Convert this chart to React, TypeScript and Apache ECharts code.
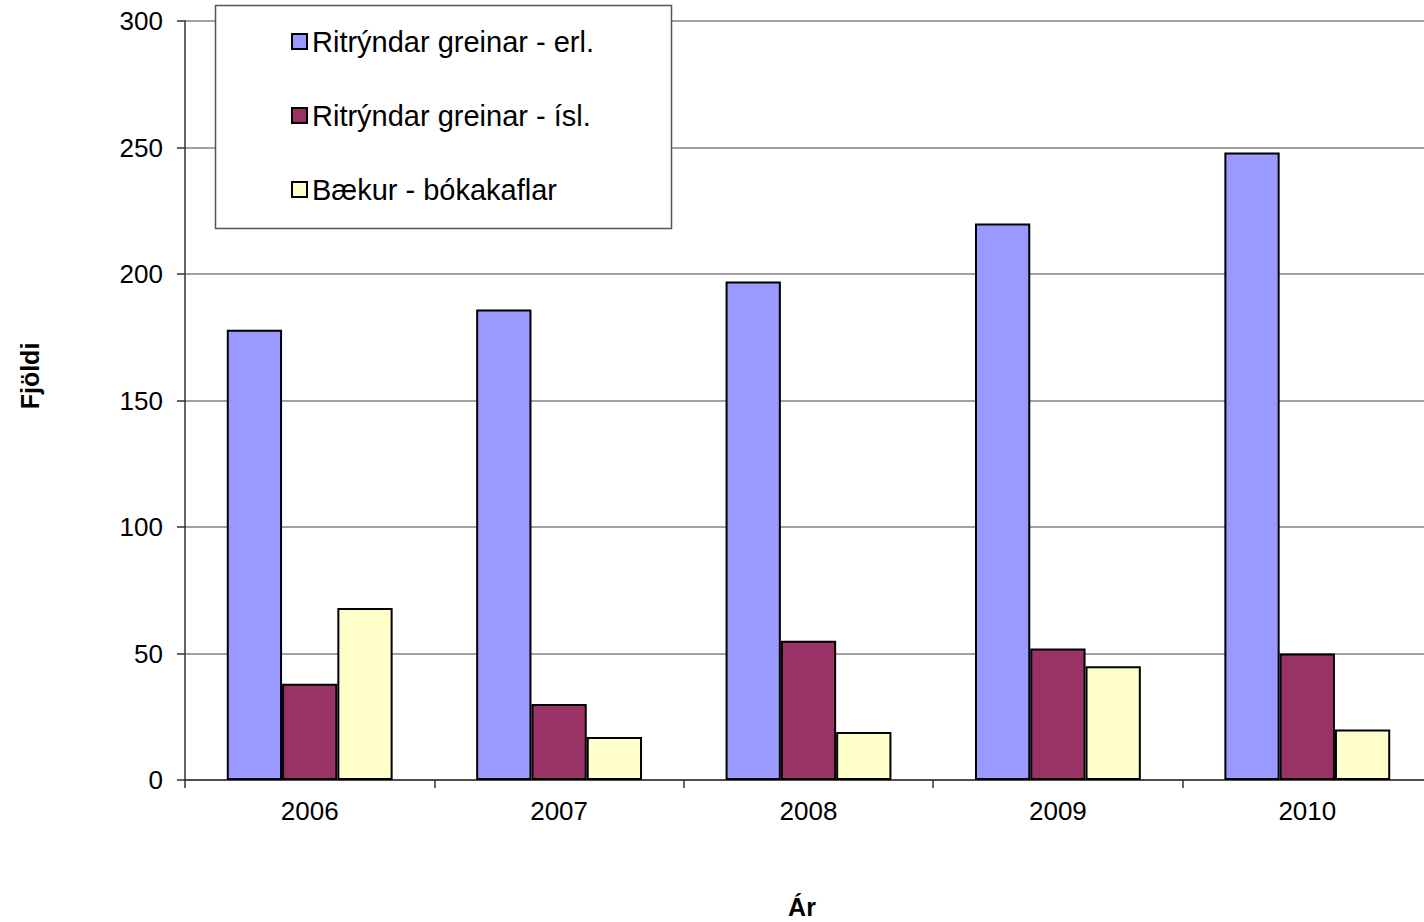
import React, { useEffect, useRef } from "react";
import * as echarts from "echarts";

const years = ["2006", "2007", "2008", "2009", "2010"];
const seriesNames = ["Ritrýndar greinar - erl.", "Ritrýndar greinar - ísl.", "Bækur - bókakaflar"];
const erl = [178, 186, 197, 220, 248];
const isl = [38, 30, 55, 52, 50];
const baekur = [68, 17, 19, 45, 20];
const colors = ["#9999FF", "#993366", "#FFFFCC"];
const yTicks = { min: 0, max: 300, interval: 50 };

export default function App() {
  const ref = useRef<HTMLDivElement>(null);
  useEffect(() => {
    if (!ref.current) return;
    const chart = echarts.init(ref.current, undefined, { renderer: "svg" });
    const font = "Liberation Sans, Arial, sans-serif";
    const data = [erl, isl, baekur];
    chart.setOption({
      animation: false,
      backgroundColor: "#ffffff",
      textStyle: { fontFamily: font },
      grid: { left: 185, top: 21, bottom: 142, right: 0, containLabel: false },
      xAxis: {
        type: "category",
        data: years,
        axisLine: { lineStyle: { color: "#333", width: 1.5 } },
        axisTick: { show: true, length: 8, lineStyle: { color: "#333", width: 1.5 } },
        axisLabel: { color: "#000", fontSize: 26, margin: 18, fontFamily: font },
        splitLine: { show: false },
      },
      yAxis: {
        type: "value",
        min: yTicks.min,
        max: yTicks.max,
        interval: yTicks.interval,
        axisLine: { show: true, lineStyle: { color: "#333", width: 1.5 } },
        axisTick: { show: true, length: 8, lineStyle: { color: "#333", width: 1.5 } },
        axisLabel: { color: "#000", fontSize: 26, margin: 22, fontFamily: font },
        splitLine: { show: true, lineStyle: { color: "#808080", width: 1.5 } },
      },
      legend: {
        orient: "vertical",
        left: 286,
        top: 22,
        itemWidth: 15,
        itemHeight: 15,
        itemGap: 45,
        icon: "rect",
        z: 6,
        textStyle: { fontSize: 29, color: "#000", fontFamily: font, padding: [0, 0, 0, 0] },
        itemStyle: { borderColor: "#000", borderWidth: 2 },
        data: seriesNames,
      },
      graphic: [
        {
          type: "rect",
          z: 5,
          shape: { x: 215.5, y: 5.5, width: 456, height: 223 },
          style: { fill: "#fff", stroke: "#555", lineWidth: 1.5 },
        },
        {
          type: "text",
          x: 30,
          y: 376,
          rotation: Math.PI / 2,
          style: {
            text: "Fjöldi",
            fontSize: 25,
            fontWeight: "bold",
            fontFamily: font,
            fill: "#000",
            align: "center",
            verticalAlign: "middle",
          },
        },
        {
          type: "text",
          x: 802,
          y: 907,
          style: {
            text: "Ár",
            fontSize: 25,
            fontWeight: "bold",
            fontFamily: font,
            fill: "#000",
            align: "center",
            verticalAlign: "middle",
          },
        },
      ],
      series: seriesNames.map((name, i) => ({
        name,
        type: "bar",
        data: data[i],
        barGap: "0%",
        barCategoryGap: "33.5%",
        z: 3,
        itemStyle: { color: colors[i], borderColor: "#000", borderWidth: 2 },
      })),
    });
    return () => chart.dispose();
  }, []);
  return (
    <div
      style={{ position: "absolute", left: 0, top: 0, width: 1424, height: 922, overflow: "hidden" }}
    >
      <div ref={ref} style={{ width: 1432, height: 922 }} />
    </div>
  );
}
